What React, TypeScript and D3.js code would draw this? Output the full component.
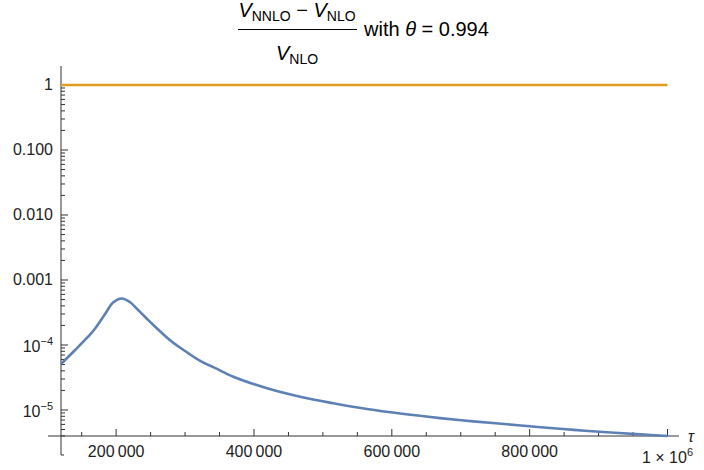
import React from 'react';
import * as d3 from 'd3';

// ---- data ----
const tauValues = [120000, 140500, 159000, 169000, 184000, 195600, 208300, 220300, 231900, 243600, 256600, 281000, 304500, 322000, 344000, 370000, 419000, 467000, 515000, 564000, 612000, 670000, 718000, 767000, 816000, 864000, 912000, 961000, 1000000];
const ratioValues = [5.1e-5, 8.38e-5, 1.33e-4, 1.76e-4, 3.0e-4, 4.5e-4, 5.2e-4, 4.55e-4, 3.45e-4, 2.6e-4, 1.91e-4, 1.12e-4, 7.5e-5, 5.7e-5, 4.4e-5, 3.25e-5, 2.16e-5, 1.6e-5, 1.27e-5, 1.035e-5, 8.81e-6, 7.5e-6, 6.68e-6, 6.03e-6, 5.43e-6, 4.95e-6, 4.54e-6, 4.22e-6, 3.98e-6];
const referenceValue = 1;
const xMajorTicks = [200000, 400000, 600000, 800000];
const xMajorLabels = ['200\u2009000', '400\u2009000', '600\u2009000', '800\u2009000'];
const yMajorTicks = [1, 0.1, 0.01, 0.001];
const yMajorLabels = ['1', '0.100', '0.010', '0.001'];
const yPowerTicks = [1e-4, 1e-5];
const yPowerExponents = ['\u22124', '\u22125'];

const BLUE = '#5E81B5';
const ORANGE = '#E19C24';
const FONT = '"Liberation Sans", Arial, sans-serif';
const AXIS = '#333';

export default function App() {
  const x = d3.scaleLinear().domain([120000, 1000000]).range([61, 667.5]);
  const y = d3.scaleLog().domain([3.98e-6, 1.96]).range([436, 66]);
  const axisY = 436;
  const axisX = 61;

  const pts: [number, number][] = tauValues.map((t, i) => [t, ratioValues[i]]);
  const line = d3.line<[number, number]>()
    .x(d => x(d[0]))
    .y(d => y(d[1]))
    .curve(d3.curveCatmullRom.alpha(0.5));

  const xMinor: number[] = [];
  for (let t = 150000; t < 1000000; t += 50000) {
    if (t % 200000 !== 0) xMinor.push(t);
  }
  const yMinor: number[] = [];
  for (let e = -6; e <= 0; e++) {
    for (let m = 2; m <= 9; m++) {
      const v = m * Math.pow(10, e);
      if (v >= 3.98e-6 && v <= 1.96) yMinor.push(v);
    }
  }

  return (
    <svg width={704} height={470} style={{ position: 'absolute', left: 0, top: 0, background: '#fff' }} fontFamily={FONT}>
      {/* title */}
      <text x={297} y={16.5} textAnchor="middle" fontSize={20} fill="#000">
        <tspan fontStyle="italic">V</tspan>
        <tspan fontSize={14} dy={4}>NNLO</tspan>
        <tspan dy={-4}>{' \u2212 '}</tspan>
        <tspan fontStyle="italic">V</tspan>
        <tspan fontSize={14} dy={4}>NLO</tspan>
      </text>
      <line x1={238} x2={357} y1={29.5} y2={29.5} stroke="#000" strokeWidth={1} />
      <text x={297} y={59.5} textAnchor="middle" fontSize={20} fill="#000">
        <tspan fontStyle="italic">V</tspan>
        <tspan fontSize={14} dy={4}>NLO</tspan>
      </text>
      <text x={364} y={36} fontSize={20} fill="#000">
        with <tspan fontStyle="italic">θ</tspan> = 0.994
      </text>

      {/* axes */}
      <line x1={48} x2={679} y1={axisY} y2={axisY} stroke={AXIS} strokeWidth={1} />
      <line x1={axisX} x2={axisX} y1={66} y2={455} stroke={AXIS} strokeWidth={1} />
      <line x1={axisX} x2={axisX + 3} y1={455} y2={455} stroke={AXIS} strokeWidth={1} />

      {/* x ticks */}
      {xMinor.map(t => (
        <line key={'xm' + t} x1={x(t)} x2={x(t)} y1={axisY} y2={axisY - 4} stroke={AXIS} strokeWidth={1} />
      ))}
      {[...xMajorTicks, 1000000].map(t => (
        <line key={'xM' + t} x1={x(t)} x2={x(t)} y1={axisY} y2={axisY - 7} stroke={AXIS} strokeWidth={1} />
      ))}
      {xMajorTicks.map((t, i) => (
        <text key={'xl' + t} x={x(t)} y={457} textAnchor="middle" fontSize={16} fill="#222">{xMajorLabels[i]}</text>
      ))}
      <text x={x(1000000)} y={463} textAnchor="middle" fontSize={16} fill="#222">
        1 × 10<tspan fontSize={11} dy={-7}>6</tspan>
      </text>
      <text x={688} y={442} fontSize={16} fontStyle="italic" fill="#222">τ</text>

      {/* y ticks */}
      {yMinor.map(v => (
        <line key={'ym' + v} x1={axisX} x2={axisX + 4} y1={y(v)} y2={y(v)} stroke={AXIS} strokeWidth={1} />
      ))}
      {[...yMajorTicks, ...yPowerTicks].map(v => (
        <line key={'yM' + v} x1={axisX} x2={axisX + 7} y1={y(v)} y2={y(v)} stroke={AXIS} strokeWidth={1} />
      ))}
      {yMajorTicks.map((v, i) => (
        <text key={'yl' + v} x={53} y={y(v) + 5.5} textAnchor="end" fontSize={16} fill="#222">{yMajorLabels[i]}</text>
      ))}
      {yPowerTicks.map((v, i) => (
        <text key={'yp' + v} x={53} y={y(v) + 7} textAnchor="end" fontSize={16} fill="#222">
          10<tspan fontSize={11} dy={-7}>{yPowerExponents[i]}</tspan>
        </text>
      ))}

      {/* series */}
      <line x1={x(120000)} x2={x(1000000)} y1={y(referenceValue)} y2={y(referenceValue)} stroke={ORANGE} strokeWidth={2.6} />
      <path d={line(pts) || ''} fill="none" stroke={BLUE} strokeWidth={2.6} />
    </svg>
  );
}
